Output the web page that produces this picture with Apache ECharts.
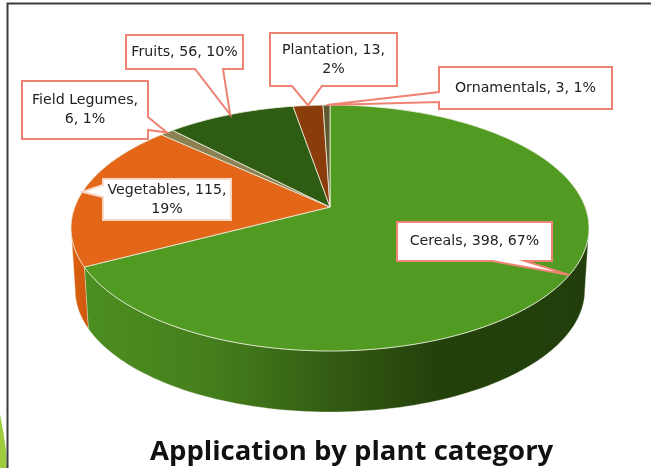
<!DOCTYPE html>
<html><head><meta charset="utf-8">
<style>html,body{margin:0;padding:0;background:#fff}#c{width:651px;height:468px}</style>
<script src="https://cdn.jsdelivr.net/npm/echarts@6/dist/echarts.min.js"></script>
</head><body><div id="c"></div>
<script>
const categories = ['Cereals','Vegetables','Field Legumes','Fruits','Plantation','Ornamentals'];
const values = [398,115,6,56,13,3];
const percents = [67,19,1,10,2,1];
const labelLines = [
  ['Cereals, 398, 67%'],
  ['Vegetables, 115,','19%'],
  ['Field Legumes,','6, 1%'],
  ['Fruits, 56, 10%'],
  ['Plantation, 13,','2%'],
  ['Ornamentals, 3, 1%']
];
const titleText = 'Application by plant category';

// style / layout
const topColors = ['#519b23','#e46618','#8b8152','#2d5c12','#8a3c0b','#5e5a30'];
const boxes = [
  {x:397,y:222,w:155,h:39,side:'bottom',a:492,b:525,stroke:'#ef8373'},
  {x:103,y:179,w:128,h:41,side:'left',a:185,b:197,stroke:'#f9d8c8'},
  {x:22,y:81,w:126,h:58,side:'right',a:117,b:130,stroke:'#ef8373'},
  {x:126,y:35,w:117,h:34,side:'bottom',a:195,b:223,stroke:'#ef8373'},
  {x:270,y:33,w:127,h:53,side:'bottom',a:292,b:322,stroke:'#ef8373'},
  {x:439,y:67,w:173,h:42,side:'left',a:92,b:102,stroke:'#ef8373'}
];
const apexX=330, apexY=207, persp=0.1707, kx=255.2, ky=119.4;
const depthDy=62, depthShrink=0.984;
const total=values.reduce((a,b)=>a+b,0);
const rad=d=>d*Math.PI/180;
// angular ranges, clockwise from the top
const ranges=[];let acc=0;
values.forEach(v=>{const s=acc/total*360;acc+=v;ranges.push([s,acc/total*360]);});
function rim(deg){
  const u=Math.sin(rad(deg)),v=-Math.cos(rad(deg)),d=1-persp*v;
  return [apexX+kx*u/d, apexY+ky*v/d];
}
function lowRim(deg){
  const p=rim(deg);
  const cy=228;
  return [apexX+(p[0]-apexX)*depthShrink, cy+depthDy+(p[1]-cy)*0.992];
}
function arc(fn,a,b){
  const pts=[],n=Math.max(2,Math.ceil(Math.abs(b-a)/1.5));
  for(let i=0;i<=n;i++)pts.push(fn(a+(b-a)*i/n));
  return pts;
}
const silA=Math.acos(-persp)*180/Math.PI, silB=360-silA;
function wallFill(i){
  if(i===1) return {type:'linear',global:true,x:70,y:0,x2:92,y2:0,colorStops:[{offset:0,color:'#e0620f'},{offset:1,color:'#c9560f'}]};
  return {type:'linear',global:true,x:85,y:0,x2:590,y2:0,colorStops:[
    {offset:0,color:'#4c8e20'},{offset:0.25,color:'#457f1c'},{offset:0.5,color:'#325a12'},{offset:0.7,color:'#23410b'},{offset:1,color:'#223f0b'}]};
}
const idx=categories.map((c,i)=>[i,values[i]]);
const series=[
 {type:'custom',coordinateSystem:'none',silent:true,z:2,data:idx,renderItem(p,api){
   const i=api.value(0),a=Math.max(ranges[i][0],silA),b=Math.min(ranges[i][1],silB);
   if(b<=a) return {type:'group',children:[]};
   const pts=arc(rim,a,b).concat(arc(lowRim,b,a));
   return {type:'polygon',shape:{points:pts},style:{fill:wallFill(i),stroke:'rgba(240,240,225,0.7)',lineWidth:0.5}};
 }},
 {type:'custom',coordinateSystem:'none',silent:true,z:3,data:idx,renderItem(p,api){
   const i=api.value(0),r=ranges[i];
   const pts=[[apexX,apexY]].concat(arc(rim,r[0],r[1]));
   return {type:'polygon',shape:{points:pts},style:{fill:topColors[i],stroke:'#eeeedd',lineWidth:0.8,lineJoin:'round'}};
 }},
 {type:'custom',coordinateSystem:'none',silent:true,z:4,data:idx,renderItem(p,api){
   const i=api.value(0),r=ranges[i],t=rim((r[0]+r[1])/2),q=boxes[i];
   const x0=q.x,y0=q.y,x1=q.x+q.w,y1=q.y+q.h;let pts;
   if(q.side==='bottom')pts=[[x0,y0],[x1,y0],[x1,y1],[q.b,y1],t,[q.a,y1],[x0,y1]];
   else if(q.side==='left')pts=[[x0,y0],[x1,y0],[x1,y1],[x0,y1],[x0,q.b],t,[x0,q.a]];
   else pts=[[x0,y0],[x1,y0],[x1,q.a],t,[x1,q.b],[x1,y1],[x0,y1]];
   return {type:'group',children:[
     {type:'polygon',shape:{points:pts},style:{fill:'#fff',stroke:q.stroke,lineWidth:2}},
     {type:'text',style:{x:x0+q.w/2,y:y0+q.h/2,text:labelLines[i].join('\n'),align:'center',verticalAlign:'middle',
       font:'14.2px "DejaVu Sans"',lineHeight:19,fill:'#222'}}
   ]};
 }}
];
const chart=echarts.init(document.getElementById('c'),null,{renderer:'canvas'});
chart.setOption({
  animation:false,backgroundColor:'#fff',
  title:{text:titleText,left:145,top:433,textStyle:{fontFamily:'"Open Sans"',fontWeight:'bold',fontSize:27.5,color:'#111'}},
  graphic:[
    {type:'polygon',z:1,shape:{points:[[0,414],[3.5,433],[6,450],[6.8,468],[0,468]]},style:{fill:'#9ecb3c'}},
    {type:'polyline',z:1,shape:{points:[[7.5,468],[7.5,3.5],[651,3.5]]},style:{stroke:'#3c3c3c',lineWidth:2,fill:'none'}}
  ],
  series
});
</script></body></html>
